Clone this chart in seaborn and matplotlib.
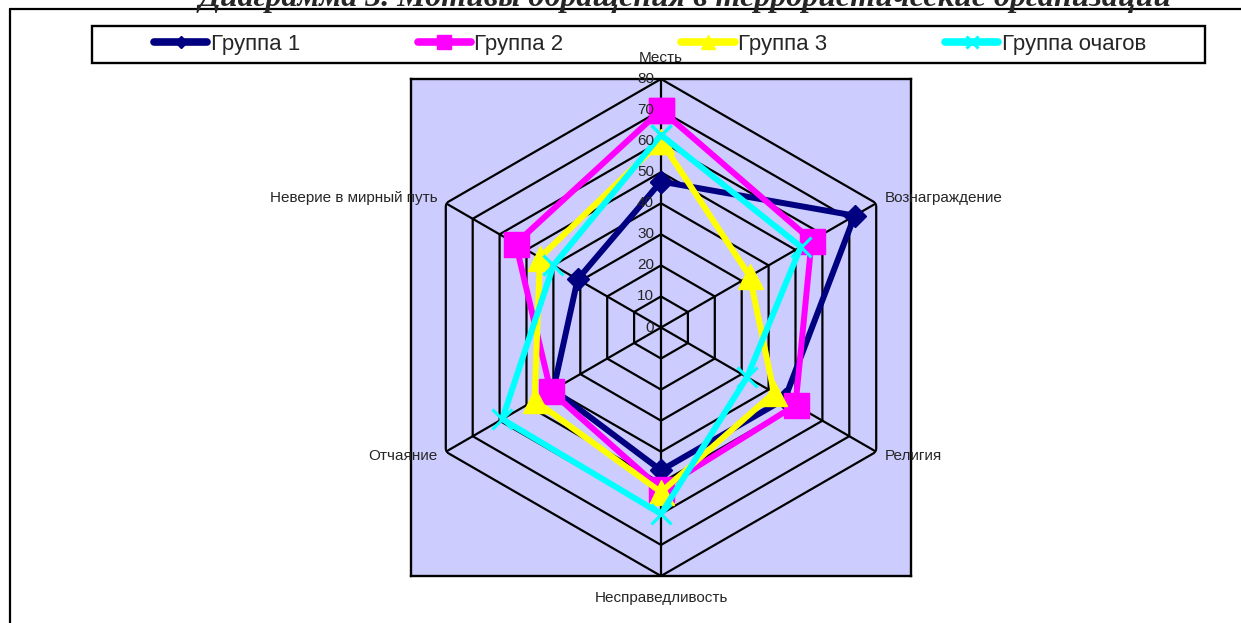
import numpy as np
import pandas as pd
import matplotlib
matplotlib.use("Agg")
import matplotlib.pyplot as plt
from matplotlib.lines import Line2D
from matplotlib.patches import Rectangle
import seaborn as sns

#########################
#         DATA          #
#########################
categories = ['Месть', 'Вознаграждение', 'Религия', 'Несправедливость',
              'Отчаяние', 'Неверие в мирный путь']
group1 = [47, 72, 46, 46, 40, 31]
group2 = [70, 56, 50, 52, 41, 54]
group3 = [60, 33, 42, 53, 47, 45]
group_foci = [62, 52, 32, 60, 59, 40]
series_names = ['Группа 1', 'Группа 2', 'Группа 3', 'Группа очагов']
ring_values = [0, 10, 20, 30, 40, 50, 60, 70, 80]
title = 'Диаграмма 3. Мотивы обращения в террористические организации'

sns.set_style("white")
plt.rcParams['font.family'] = ['Liberation Sans', 'DejaVu Sans']

W, H = 1241, 623
fig = plt.figure(figsize=(W / 100, H / 100), dpi=100)

# lavender plot area
rect = [411 / W, 1 - 576 / H, 500 / W, 497 / H]
bg = fig.add_axes(rect)
bg.set_facecolor('#CCCCFF')
bg.set_xticks([])
bg.set_yticks([])
for s in bg.spines.values():
    s.set_color('black')
    s.set_linewidth(1.7)

ax = fig.add_axes(rect, projection='polar')
ax.set_facecolor('none')
ax.set_theta_zero_location('N')
ax.set_theta_direction(-1)
ax.grid(False)
ax.spines['polar'].set_visible(False)
ax.set_xticks([])
ax.set_yticks([])

n = len(categories)
theta = np.linspace(0, 2 * np.pi, n + 1)

# hexagonal grid
for r in ring_values[1:]:
    ax.plot(theta, [r] * (n + 1), color='black', lw=1.6, zorder=1)
for t in theta[:-1]:
    ax.plot([t, t], [0, ring_values[-1]], color='black', lw=1.6, zorder=1)

for r in ring_values:
    ax.annotate(str(r), (0, r), xytext=(-5, 0), textcoords='offset points',
                ha='right', va='center', fontsize=11, zorder=6)

# category labels
label_pos = [((0, 15), 'center', 'center'),
             ((6, 4), 'left', 'center'),
             ((6, -3), 'left', 'center'),
             ((0, -16), 'center', 'center'),
             ((-6, -3), 'right', 'center'),
             ((-6, 4), 'right', 'center')]
for t, name, (off, ha, va) in zip(theta[:-1], categories, label_pos):
    ax.annotate(name, (t, ring_values[-1]), xytext=off, textcoords='offset points',
                ha=ha, va=va, fontsize=11, annotation_clip=False)

# series
styles = [('#000080', 'D', 11, 1.0),
          ('#FF00FF', 's', 18, 1.0),
          ('#FFFF00', '^', 18, 1.0),
          ('#00FFFF', 'x', 15, 2.2)]
for name, vals, (col, mk, ms, mew) in zip(series_names,
                                          [group1, group2, group3, group_foci], styles):
    df = pd.DataFrame({'theta': theta, 'value': vals + vals[:1]})
    sns.lineplot(data=df, x='theta', y='value', ax=ax, sort=False, color=col,
                 lw=4.3, marker=mk, markersize=ms, markeredgecolor=col,
                 markeredgewidth=mew, label=name, legend=False, zorder=3, clip_on=False)

ax.set_ylim(0, ring_values[-1])
ax.set_xlabel('')
ax.set_ylabel('')

# legend
handles = [Line2D([], [], color=c, lw=5.5, marker=m, markersize=ms * 0.55,
                  markeredgecolor=c, markeredgewidth=mew) for c, m, ms, mew in styles]
fig.legend(handles, series_names, ncol=4, loc='center left',
           bbox_to_anchor=(143 / W, 1 - 44.5 / H), frameon=False, fontsize=16,
           handlelength=2.4, handletextpad=0.15, columnspacing=5.3, borderpad=0)
fig.add_artist(Rectangle((92 / W, 1 - 63 / H), 1113 / W, 37 / H,
                         transform=fig.transFigure, fill=False, ec='black', lw=1.7))

# outer frame and cut title
fig.add_artist(Line2D([10 / W, 1], [1 - 9 / H] * 2, transform=fig.transFigure,
                      color='black', lw=1.6))
fig.add_artist(Line2D([10 / W] * 2, [0, 1 - 9 / H], transform=fig.transFigure,
                      color='black', lw=1.6))
fig.text(685 / W, 1 - 6 / H, title, ha='center', va='baseline', fontsize=23,
         fontweight='bold', fontstyle='italic', family='Liberation Serif')

fig.savefig('out.png', dpi=100)
